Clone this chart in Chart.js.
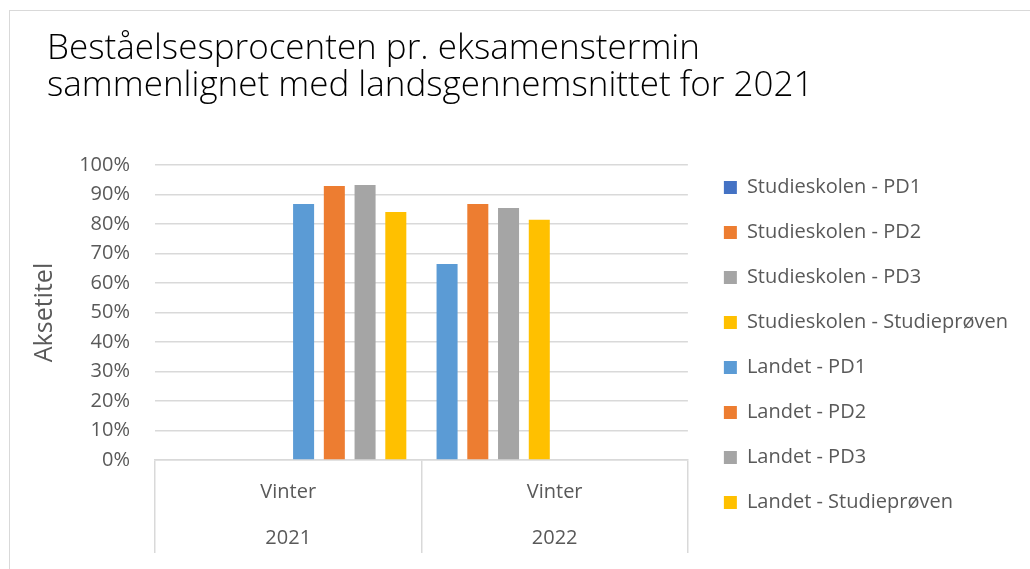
<!DOCTYPE html>
<html>
<head>
<meta charset="utf-8">
<script src="https://cdn.jsdelivr.net/npm/chart.js@4.4.1/dist/chart.umd.min.js"></script>
<style>
  html, body { margin: 0; padding: 0; background: #fff; overflow: hidden; }
  #wrap { position: relative; width: 1030px; height: 569px; }
  #frame { position: absolute; left: 9px; top: 10px; width: 1100px; height: 700px;
           border-left: 1.5px solid #D9D9D9; border-top: 1.5px solid #D9D9D9; }
  canvas { position: absolute; left: 0; top: 0; }
</style>
</head>
<body>
<div id="wrap">
  <div id="frame"></div>
  <canvas id="c" width="1030" height="569"></canvas>
</div>
<script>
// ---- data ----
const categories = [['Vinter', '2021'], ['Vinter', '2022']];
const seriesNames = [
  'Studieskolen - PD1', 'Studieskolen - PD2', 'Studieskolen - PD3', 'Studieskolen - Studieprøven',
  'Landet - PD1', 'Landet - PD2', 'Landet - PD3', 'Landet - Studieprøven'
];
// values per series: [2021 Vinter, 2022 Vinter]
const skolenPD1 = [null, 0.664];
const skolenPD2 = [null, 0.868];
const skolenPD3 = [null, 0.854];
const skolenStudieproven = [null, 0.814];
const landetPD1 = [0.868, null];
const landetPD2 = [0.929, null];
const landetPD3 = [0.932, null];
const landetStudieproven = [0.841, null];
const yTicks = [0, 0.1, 0.2, 0.3, 0.4, 0.5, 0.6, 0.7, 0.8, 0.9, 1.0];

const seriesValues = [skolenPD1, skolenPD2, skolenPD3, skolenStudieproven,
                      landetPD1, landetPD2, landetPD3, landetStudieproven];
const barColors = ['#5B9BD5', '#ED7D31', '#A5A5A5', '#FFC000', '#5B9BD5', '#ED7D31', '#A5A5A5', '#FFC000'];
const legendColors = ['#4472C4', '#ED7D31', '#A5A5A5', '#FFC000', '#5B9BD5', '#ED7D31', '#A5A5A5', '#FFC000'];

const FONT = "'Open Sans', 'Noto Sans', sans-serif";
const GRID = '#D9D9D9';
const TXT = '#595959';

const datasets = seriesNames.map((name, i) => ({
  label: name,
  data: seriesValues[i],
  backgroundColor: barColors[i],
  borderWidth: 0,
  categoryPercentage: 0.923,
  barPercentage: 0.684
}));

const shiftTitle = {
  id: 'shiftTitle',
  afterLayout(chart) {
    const t = chart.titleBlock;
    if (t) { t.left += 47; t.right += 47; }
  }
};

new Chart(document.getElementById('c'), {
  type: 'bar',
  data: { labels: categories, datasets },
  plugins: [shiftTitle],
  options: {
    responsive: false,
    animation: false,
    devicePixelRatio: 1,
    layout: { padding: { left: 0, right: 12, top: 0, bottom: 0 } },
    plugins: {
      title: {
        display: true,
        text: ['Beståelsesprocenten pr. eksamenstermin', 'sammenlignet med landsgennemsnittet for 2021'],
        align: 'start',
        color: '#000',
        font: { family: FONT, size: 35, weight: '300', lineHeight: 37 / 35 },
        padding: { top: 31, bottom: 60 }
      },
      legend: {
        position: 'right',
        align: 'start',
        maxWidth: 400,
        title: { display: true, text: '', font: { size: 10, lineHeight: 1 }, padding: { top: 142.5, bottom: 0 } },
        labels: {
          font: { family: FONT, size: 20 },
          color: TXT,
          boxWidth: 13,
          boxHeight: 13,
          padding: 25,
          generateLabels(chart) {
            const items = Chart.defaults.plugins.legend.labels.generateLabels(chart);
            items.forEach((it, i) => { it.fillStyle = legendColors[i]; it.strokeStyle = legendColors[i]; it.lineWidth = 0; });
            return items;
          }
        }
      },
      tooltip: { enabled: false }
    },
    scales: {
      x: {
        grid: { display: true, offset: true, drawOnChartArea: false, drawTicks: true,
                tickLength: 93, color: GRID, lineWidth: 1.5 },
        border: { display: true, color: GRID, width: 1.5 },
        ticks: { font: { family: FONT, size: 20, lineHeight: 46 / 20 }, color: TXT, padding: -84, maxRotation: 0 },
        afterFit(s) { s.height = 109; }
      },
      y: {
        min: 0, max: 1,
        afterBuildTicks(s) { s.ticks = yTicks.map(v => ({ value: v })); },
        grid: { color: GRID, lineWidth: 1.5, drawTicks: false },
        border: { display: false },
        ticks: { font: { family: FONT, size: 20 }, color: TXT, padding: 25,
                 callback: v => Math.round(v * 100) + '%' },
        title: { display: true, text: 'Aksetitel', color: TXT,
                 font: { family: FONT, size: 25, lineHeight: 1.2 }, padding: { top: 30, bottom: 0 } },
        afterFit(s) { s.width = 155; }
      },
      spacer: {
        position: 'right',
        display: true,
        grid: { display: false },
        border: { display: false },
        ticks: { display: false },
        afterFit(s) { s.width = 11; }
      }
    }
  }
});
</script>
</body>
</html>
